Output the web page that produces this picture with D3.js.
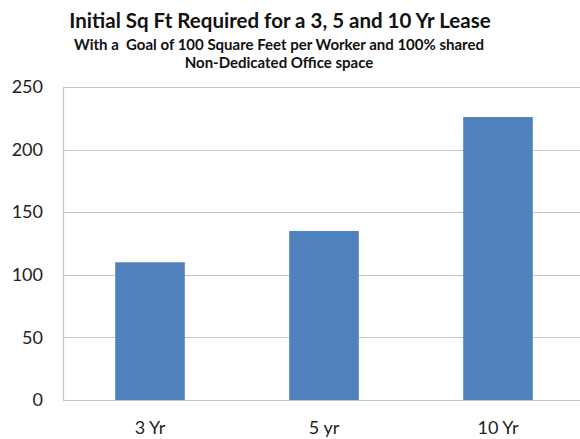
<!DOCTYPE html>
<html>
<head>
<meta charset="utf-8">
<script src="https://cdn.jsdelivr.net/npm/d3@7"></script>
<style>
  html, body { margin: 0; padding: 0; background: #fff; }
  svg { display: block; }
  text { white-space: pre; }
</style>
</head>
<body>
<svg id="chart" width="580" height="439"></svg>
<script>
// Lease term categories and required square footage
const categories = ["3 Yr", "5 yr", "10 Yr"];
const sqFt = [110, 135, 226];
const yTicks = [0, 50, 100, 150, 200, 250];

const titleText = "Initial Sq Ft Required for a 3, 5 and 10 Yr Lease";
const subtitleLines = [
  "With a  Goal of 100 Square Feet per Worker and 100% shared",
  "Non-Dedicated Office space"
];

const width = 580, height = 439;
const margin = { top: 87, right: -5, bottom: 39, left: 63 };
const font = "Lato, 'Open Sans', sans-serif";

const svg = d3.select("#chart");

const x = d3.scaleBand()
  .domain(categories)
  .range([margin.left, width - margin.right])
  .paddingInner(0.6)
  .paddingOuter(0.3);

const y = d3.scaleLinear()
  .domain([0, 250])
  .range([height - margin.bottom, margin.top]);

// Horizontal gridlines
svg.append("g")
  .selectAll("line")
  .data(yTicks)
  .join("line")
  .attr("x1", margin.left)
  .attr("x2", width)
  .attr("y1", d => Math.round(y(d)) + 0.5)
  .attr("y2", d => Math.round(y(d)) + 0.5)
  .attr("stroke", "#c4c4c4")
  .attr("stroke-width", 1.2);

// Vertical axis line
svg.append("line")
  .attr("x1", margin.left + 0.5)
  .attr("x2", margin.left + 0.5)
  .attr("y1", y(250))
  .attr("y2", y(0))
  .attr("stroke", "#c4c4c4")
  .attr("stroke-width", 1.2);

// Bars
svg.append("g")
  .selectAll("rect")
  .data(categories.map((c, i) => ({ c, v: sqFt[i] })))
  .join("rect")
  .attr("x", d => x(d.c))
  .attr("width", x.bandwidth())
  .attr("y", d => y(d.v))
  .attr("height", d => y(0) - y(d.v))
  .attr("fill", "#4f81bd");

// Y axis labels
const yAxis = d3.axisLeft(y).tickValues(yTicks).tickSize(0).tickPadding(0);
const yg = svg.append("g")
  .attr("transform", `translate(${margin.left - 20},0)`)
  .call(yAxis);
yg.select(".domain").remove();
yg.selectAll("text")
  .attr("font-family", font)
  .attr("font-size", 18)
  .attr("fill", "#222");

// X axis labels
const xAxis = d3.axisBottom(x).tickSize(0).tickPadding(0);
const xg = svg.append("g")
  .attr("transform", `translate(0,${y(0) + 21})`)
  .call(xAxis);
xg.select(".domain").remove();
xg.selectAll("text")
  .attr("font-family", font)
  .attr("font-size", 18)
  .attr("fill", "#222");

// Title block
svg.append("text")
  .attr("x", 280)
  .attr("y", 28)
  .attr("text-anchor", "middle")
  .attr("font-family", font)
  .attr("font-weight", "bold")
  .attr("font-size", 20.5)
  .attr("fill", "#111")
  .text(titleText);

svg.append("g")
  .selectAll("text")
  .data(subtitleLines)
  .join("text")
  .attr("x", 279)
  .attr("y", (d, i) => 50 + i * 18)
  .attr("text-anchor", "middle")
  .attr("font-family", font)
  .attr("font-weight", "bold")
  .attr("font-size", 15)
  .attr("fill", "#111")
  .text(d => d);
</script>
</body>
</html>
